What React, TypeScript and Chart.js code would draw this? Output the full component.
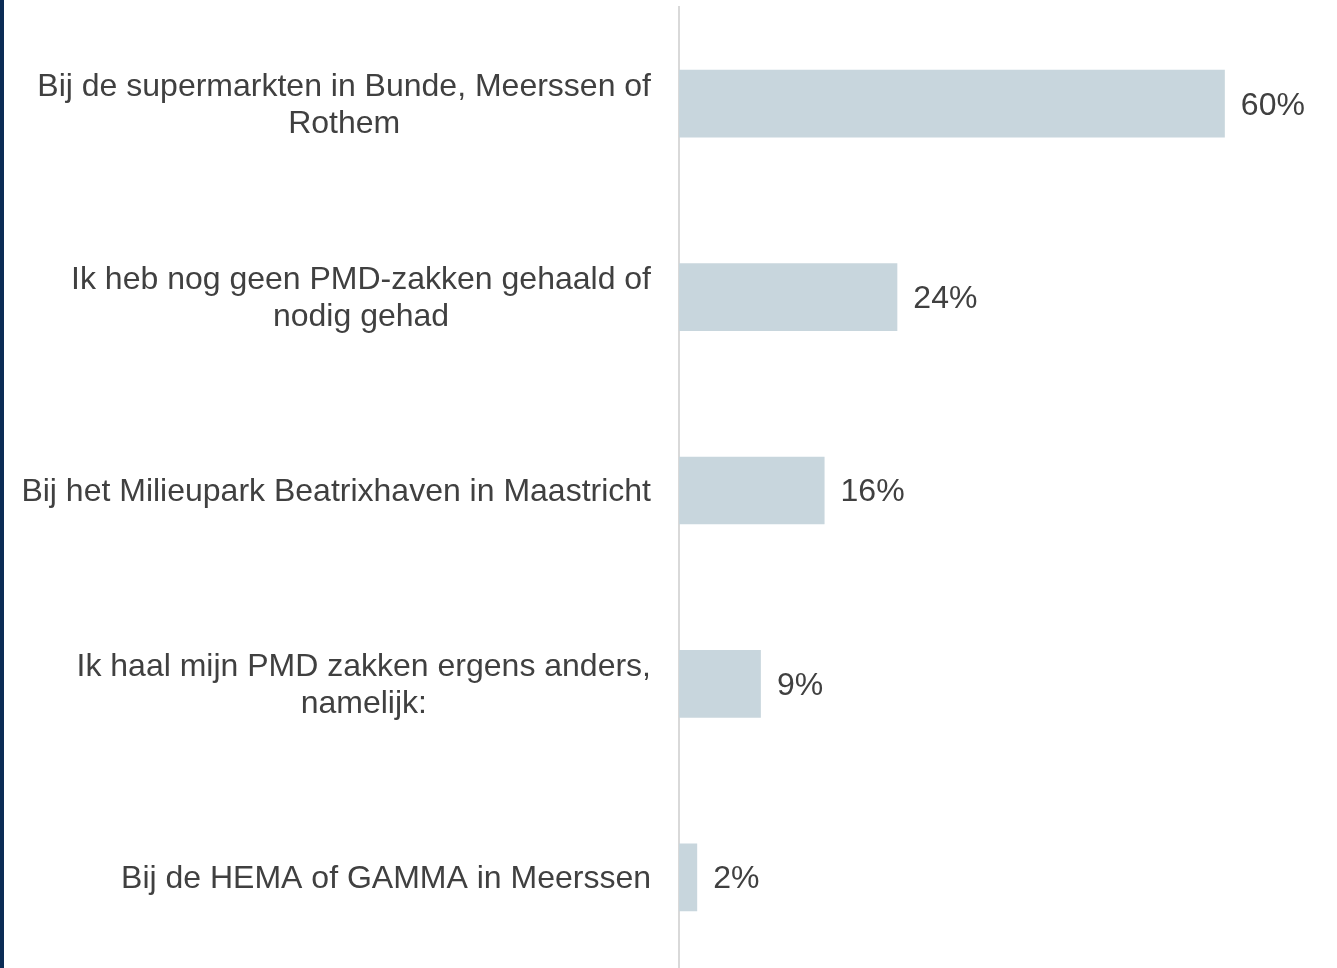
import React, { useEffect, useRef } from "react";
import { Chart, registerables } from "chart.js";

Chart.register(...registerables);

const categories: string[][] = [
  ["Bij de supermarkten in Bunde, Meerssen of", "Rothem"],
  ["Ik heb nog geen PMD-zakken gehaald of", "nodig gehad"],
  ["Bij het Milieupark Beatrixhaven in Maastricht"],
  ["Ik haal mijn PMD zakken ergens anders,", "namelijk:"],
  ["Bij de HEMA of GAMMA in Meerssen"],
];
const values = [60, 24, 16, 9, 2];
const valueLabels = ["60%", "24%", "16%", "9%", "2%"];

const FONT = "'Liberation Sans', Arial, sans-serif";
const TEXT = "#404040";
const LINE_H = 37;

const labelPlugin = {
  id: "labels",
  afterDatasetsDraw(chart: any) {
    const ctx = chart.ctx;
    const meta = chart.getDatasetMeta(0);
    const yScale = chart.scales.y;
    ctx.save();
    ctx.font = `32px ${FONT}`;
    ctx.fillStyle = TEXT;
    ctx.textBaseline = "middle";
    // value labels
    ctx.textAlign = "left";
    meta.data.forEach((bar: any, i: number) => {
      ctx.fillText(valueLabels[i], bar.x + 16, bar.y + 2);
    });
    // category labels: block right-aligned, lines centered within block
    ctx.textAlign = "center";
    const right = chart.chartArea.left - 28;
    categories.forEach((lines, i) => {
      const y = yScale.getPixelForTick(i);
      const w = Math.max(...lines.map((l) => ctx.measureText(l).width));
      const cx = right - w / 2;
      const y0 = y - ((lines.length - 1) * LINE_H) / 2;
      lines.forEach((l, j) => ctx.fillText(l, cx, y0 + j * LINE_H + 2));
    });
    ctx.restore();
  },
};

export default function App() {
  const ref = useRef<HTMLCanvasElement>(null);
  useEffect(() => {
    document.body.style.margin = "0";
    const chart = new Chart(ref.current!, {
      type: "bar",
      data: {
        labels: categories.map((c) => c.join(" ")),
        datasets: [
          {
            data: values,
            backgroundColor: "#c8d6dd",
            borderWidth: 0,
            barPercentage: 0.7,
            categoryPercentage: 0.5,
          },
        ],
      },
      options: {
        indexAxis: "y",
        animation: false,
        responsive: false,
        layout: { padding: { top: 7, bottom: 6, right: 3, left: 0 } },
        plugins: { legend: { display: false }, tooltip: { enabled: false } },
        scales: {
          x: {
            min: 0,
            max: 72,
            display: false,
            grid: { display: false },
          },
          y: {
            grid: { display: false, drawTicks: false },
            border: { display: true, color: "#d9d9d9", width: 2 },
            ticks: { display: false },
            afterFit: (s: any) => {
              s.width = 679;
            },
          },
        },
      },
      plugins: [labelPlugin],
    });
    return () => chart.destroy();
  }, []);
  return (
    <div style={{ position: "relative", width: 1337, height: 968, overflow: "hidden", background: "#fff" }}>
      <canvas ref={ref} width={1337} height={980} style={{ display: "block" }} />
      <div style={{ position: "absolute", left: 0, top: 0, width: 4, height: 968, background: "#0b2c55" }} />
    </div>
  );
}
